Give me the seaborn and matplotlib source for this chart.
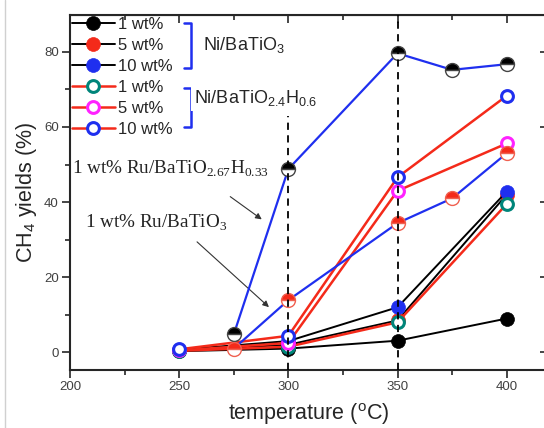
import numpy as np
import pandas as pd
import seaborn as sns
import matplotlib.pyplot as plt
from matplotlib.lines import Line2D

# Ni catalysts, measured at 250-400 C
temps_ni = [250, 300, 350, 400]
ni_1 = [0.3, 1.0, 3.1, 9.0]
ni_5 = [0.5, 2.0, 8.5, 42.0]
ni_10 = [0.7, 3.0, 12.0, 42.8]
nih_1 = [0.4, 1.5, 8.0, 39.5]
nih_5 = [0.5, 2.5, 43.0, 55.6]
nih_10 = [0.8, 4.4, 46.6, 68.3]

# Ru reference catalysts
temps_ru = [275, 300, 350, 375, 400]
ru_h = [4.8, 48.8, 79.6, 75.2, 76.7]
ru = [1.0, 13.9, 34.4, 41.0, 53.0]

labels = ["1 wt%", "5 wt%", "10 wt%"]
ref_temps = [300, 350]
ref_tops = [63, 90]

sns.set_style("ticks")
plt.rcParams["font.family"] = ["Liberation Sans", "DejaVu Sans"]

fig = plt.figure(figsize=(5.44, 4.28), dpi=100)
ax = fig.add_axes([70 / 544, 58 / 428, 478 / 544, 355 / 428])

BLUE = "#1f2fef"
RED = "#f42a1a"

# Ni/BaTiO3 - black lines, filled markers
for vals, col, lab in zip([ni_1, ni_5, ni_10], ["black", RED, BLUE], labels):
    df = pd.DataFrame({"T": temps_ni, "y": vals})
    sns.lineplot(data=df, x="T", y="y", ax=ax, color="black", lw=1.4,
                 marker="o", ms=10, mfc=col, mec=col, mew=0.5,
                 label=lab, legend=False, zorder=3)

# Ni/BaTiO2.4H0.6 - red lines, open markers
for vals, col, lab in zip([nih_1, nih_5, nih_10], ["#00857a", "#ff22ff", BLUE], labels):
    df = pd.DataFrame({"T": temps_ni, "y": vals})
    sns.lineplot(data=df, x="T", y="y", ax=ax, color=RED, lw=1.8,
                 marker="o", ms=8.5, mfc="white", mec=col, mew=2.2,
                 label=lab, legend=False, zorder=4)

# Ru series - blue lines, half filled markers
for vals, col, ec in zip([ru_h, ru], ["black", RED], ["#444444", "#f06050"]):
    df = pd.DataFrame({"T": temps_ru, "y": vals})
    sns.lineplot(data=df, x="T", y="y", ax=ax, color=BLUE, lw=1.6,
                 marker="o", ms=10, mfc=col, mfcalt="white", fillstyle="top",
                 mec=ec, mew=1.0, legend=False, zorder=5)

# dashed guide lines
for t, top in zip(ref_temps, ref_tops):
    ax.plot([t, t], [-4.7, top], color="black", lw=1.3, ls=(0, (4, 3)), zorder=6)

ax.set_xlim(200, 418.9)
ax.set_ylim(-4.7, 89.8)
ax.set_xticks([200, 250, 300, 350, 400])
ax.set_xticks([225, 275, 325, 375], minor=True)
ax.set_yticks([0, 20, 40, 60, 80])
ax.set_yticks([10, 30, 50, 70], minor=True)
ax.tick_params(which="major", direction="out", length=6, width=1.2,
               labelsize=9.5, labelcolor="#404040", pad=2)
ax.tick_params(which="minor", direction="out", length=3.5, width=1.2)
for s in ax.spines.values():
    s.set_linewidth(1.5)

top = ax.secondary_xaxis("top")
top.set_xticks([200, 250, 300, 350, 400])
top.set_xticks([225, 275, 325, 375], minor=True)
top.tick_params(which="major", direction="in", length=6, width=1.2, labeltop=False)
top.tick_params(which="minor", direction="in", length=3.5, width=1.2)
right = ax.secondary_yaxis("right")
right.set_yticks([0, 20, 40, 60, 80])
right.tick_params(direction="in", length=6, width=1.2, labelright=False)

ax.set_xlabel("temperature ($\\mathregular{^o}$C)", fontsize=15.5, labelpad=6)
ax.set_ylabel("CH$_\\mathregular{4}$ yields (%)", fontsize=15.5, labelpad=4)

h, l = ax.get_legend_handles_labels()
ax.legend(h, l, loc="upper left", bbox_to_anchor=(0.0, 1.0), frameon=False,
          fontsize=12, handlelength=2.6, handletextpad=0.15, labelspacing=0.36,
          borderpad=0.1, borderaxespad=0)

# group brackets
for y0, y1 in [(0.9775, 0.8507), (0.7944, 0.6845)]:
    ax.plot([0.2385, 0.2531, 0.2531, 0.2385], [y0, y0, y1, y1],
            transform=ax.transAxes, color=BLUE, lw=1.8, clip_on=False, zorder=7)
ax.text(0.278, 0.901, "Ni/BaTiO$_\\mathregular{3}$", transform=ax.transAxes,
        fontsize=13, va="baseline", ha="left")
ax.text(0.259, 0.751, "Ni/BaTiO$_\\mathregular{2.4}$H$_\\mathregular{0.6}$",
        transform=ax.transAxes, fontsize=13, va="baseline", ha="left", zorder=8,
        bbox=dict(boxstyle="square,pad=0.15", fc="white", ec="none"))

ax.text(0.004, 0.554, "1 wt% Ru/BaTiO$_\\mathregular{2.67}$H$_\\mathregular{0.33}$",
        transform=ax.transAxes, fontsize=13.8, family="Liberation Serif",
        va="baseline", ha="left", color="#222222")
ax.text(0.031, 0.400, "1 wt% Ru/BaTiO$_\\mathregular{3}$",
        transform=ax.transAxes, fontsize=13.8, family="Liberation Serif",
        va="baseline", ha="left", color="#222222")
for (x0, y0), (x1, y1) in [((228, 195), (264, 221)), ((195, 240), (271, 309))]:
    ax.annotate("", xy=((x1 - 70) / 478, (370 - y1) / 355),
                xytext=((x0 - 70) / 478, (370 - y0) / 355),
                xycoords="axes fraction", textcoords="axes fraction",
                arrowprops=dict(arrowstyle="-|>", color="#333333", lw=0.8,
                                mutation_scale=9))

fig.add_artist(Line2D([5 / 544, 5 / 544], [0, 1], color="#d0d0d0", lw=1))

fig.savefig("out.png", dpi=100)
